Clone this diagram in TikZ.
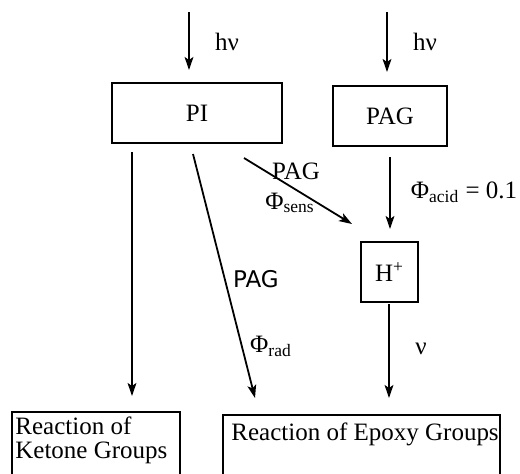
\documentclass[tikz,border=0pt]{standalone}
\usepackage{fontspec}
\setmainfont{Liberation Serif}
\newfontfamily\handfont{DejaVu Sans}
\usetikzlibrary{arrows.meta}
\begin{document}
\begin{tikzpicture}[x=0.5pt,y=-0.5pt,
  font=\fontsize{12.5}{12}\selectfont,
  box/.style={draw,line width=0.7pt,inner sep=0pt},
  arr/.style={line width=0.9pt,-{Stealth[length=6.5pt,width=4.4pt,inset=1.5pt]}},
  lbl/.style={inner sep=0pt}]
\useasboundingbox (0,0) rectangle (520,473);
% boxes
\node[box,minimum width=85pt,minimum height=30pt] (PI) at (197,113) {PI};
\node[box,minimum width=57pt,minimum height=30pt] (PAG) at (390,116) {PAG};
\node[box,minimum width=28.5pt,minimum height=30pt] (H) at (389.5,272) {H\textsuperscript{+}};
\node[box,minimum width=84pt,minimum height=33pt] (KG) at (96,445) {};
\node[lbl,align=left,anchor=north west] (KGt) at (15,416) {Reaction of\\Ketone Groups};
\node[box,minimum width=138.5pt,minimum height=31pt] (EG) at (361.5,446) {};
\node[lbl,anchor=west] (EGt) at (231,434) {Reaction of Epoxy Groups};
% coordinates
\coordinate (h1s) at (189,12);
\coordinate (h1e) at (189,70);
\coordinate (h2s) at (387,12);
\coordinate (h2e) at (387,72);
\coordinate (PIl) at (132,152);
\coordinate (KGe) at (132,396);
\coordinate (PIr) at (193,154);
\coordinate (EGl) at (255,398);
\coordinate (Ss) at (244,158);
\coordinate (Se) at (352,224);
\coordinate (As) at (390,157);
\coordinate (Ae) at (390,229);
\coordinate (Hs) at (389,304);
\coordinate (He) at (389,398);
% arrows
\draw[arr] (h1s) -- (h1e);
\draw[arr] (h2s) -- (h2e);
\draw[arr] (PIl) -- (KGe);
\draw[arr] (PIr) -- (EGl);
\draw[arr] (Ss) -- (Se);
\draw[arr] (As) -- (Ae);
\draw[arr] (Hs) -- (He);
% labels
\node[lbl] (l1) at (227,42) {hν};
\node[lbl] (l2) at (425,42) {hν};
\node[lbl] (l3) at (296,171) {PAG};
\node[lbl] (l4) at (290,203) {Φ\textsubscript{sens}};
\node[lbl] (l5) at (464,192) {Φ\textsubscript{acid} = 0.1};
\node[lbl,font=\handfont\fontsize{11.5}{13}\selectfont] (l6) at (256,279) {PAG};
\node[lbl] (l7) at (271,346) {Φ\textsubscript{rad}};
\node[lbl] (l8) at (421,349) {ν};
\end{tikzpicture}
\end{document}
